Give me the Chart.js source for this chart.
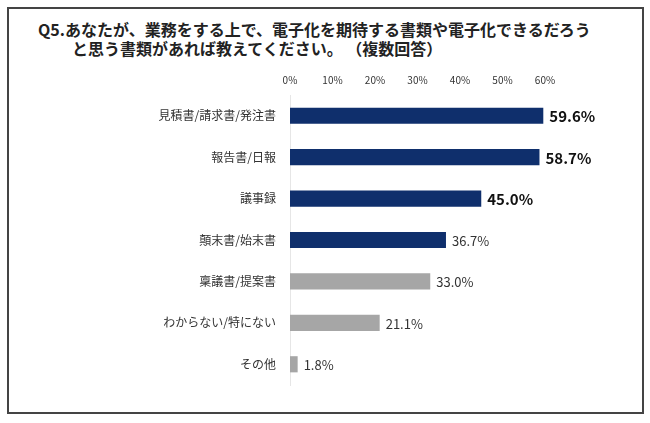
<!DOCTYPE html>
<html>
<head>
<meta charset="utf-8">
<script src="https://cdn.jsdelivr.net/npm/chart.js@4"></script>
<style>
  html, body { margin: 0; padding: 0; background: #fff; }
  #wrap { position: relative; width: 650px; height: 423px; }
  #frame {
    position: absolute; left: 7px; top: 7px; width: 633px; height: 403px;
    border: 2px solid #444;
  }
  .title {
    position: absolute; font-family: "Noto Sans CJK JP", sans-serif;
    font-weight: bold; font-size: 16px; color: #222; white-space: nowrap;
    line-height: 18px;
  }
  canvas { position: absolute; left: 0; top: 0; }
</style>
</head>
<body>
<div id="wrap">
  <div id="frame"></div>
  <div class="title" style="left:38px; top:20px;">Q5.あなたが、業務をする上で、電子化を期待する書類や電子化できるだろう</div>
  <div class="title" style="left:72px; top:39px;">と思う書類があれば教えてください。&nbsp;（複数回答）</div>
  <canvas id="chart" width="650" height="423"></canvas>
</div>
<script>
const categories = ["見積書/請求書/発注書", "報告書/日報", "議事録", "顛末書/始末書", "稟議書/提案書", "わからない/特にない", "その他"];
const values = [59.6, 58.7, 45.0, 36.7, 33.0, 21.1, 1.8];
const tickValues = [0, 10, 20, 30, 40, 50, 60];

const navy = '#0f2f6c';
const grey = '#a6a6a6';
const font = '"Noto Sans CJK JP", sans-serif';

// 値ラベル（上位3つは太字）
const valueLabels = {
    id: 'valueLabels',
    afterDatasetsDraw(chart) {
        const ctx = chart.ctx;
        const meta = chart.getDatasetMeta(0);
        ctx.save();
        ctx.textBaseline = 'middle';
        ctx.textAlign = 'left';
        meta.data.forEach((bar, i) => {
            const big = i < 3;
            ctx.font = (big ? 'bold 15px ' : '13px ') + font;
            ctx.fillStyle = big ? '#111' : '#333';
            ctx.fillText(values[i].toFixed(1) + '%', bar.x + 6, bar.y + 1);
        });
        ctx.restore();
    }
};

const ctx = document.getElementById('chart').getContext('2d');
new Chart(ctx, {
    type: 'bar',
    data: {
        labels: categories,
        datasets: [{
            data: values,
            backgroundColor: values.map((v, i) => i < 4 ? navy : grey),
            barPercentage: 0.39,
            categoryPercentage: 1
        }]
    },
    options: {
        indexAxis: 'y',
        responsive: false,
        animation: false,
        layout: { padding: { left: 0, top: 60, right: 105, bottom: 38 } },
        plugins: { legend: { display: false }, tooltip: { enabled: false } },
        scales: {
            x: {
                position: 'top',
                min: 0,
                max: 60,
                afterBuildTicks: (scale) => { scale.ticks = tickValues.map(v => ({ value: v })); },
                afterFit: (scale) => { scale.height = 35; },
                grid: { display: false, drawTicks: false },
                border: { display: false },
                ticks: {
                    padding: 9,
                    color: '#333',
                    font: { family: font, size: 10 },
                    callback: (v) => v + '%'
                }
            },
            y: {
                afterFit: (scale) => { scale.width = 290; },
                grid: { display: false, drawTicks: false },
                border: { display: true, color: '#e6e6e6', width: 1 },
                ticks: {
                    padding: 14,
                    color: '#333',
                    font: { family: font, size: 12 }
                }
            }
        }
    },
    plugins: [valueLabels]
});
</script>
</body>
</html>
